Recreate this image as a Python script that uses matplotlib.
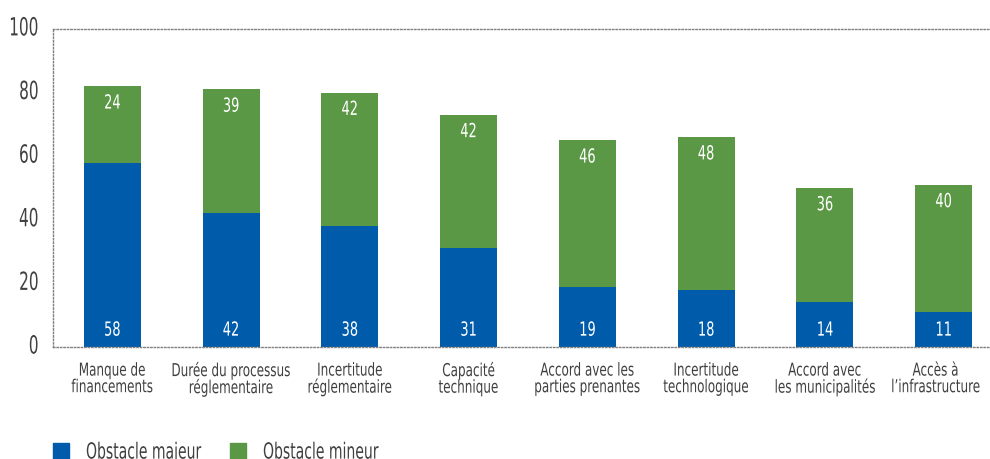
import matplotlib.pyplot as plt
import matplotlib.patheffects as pe
from matplotlib.patches import Patch
from matplotlib.transforms import Affine2D, ScaledTranslation

# Obstacles and shares (%) of respondents
categories = ["Manque de\nfinancements", "Durée du processus\nréglementaire",
              "Incertitude\nréglementaire", "Capacité\ntechnique",
              "Accord avec les\nparties prenantes", "Incertitude\ntechnologique",
              "Accord avec\nles municipalités", "Accès à\nl\u2019infrastructure"]
majeur = [58, 42, 38, 31, 19, 18, 14, 11]
mineur = [24, 39, 42, 42, 46, 48, 36, 40]
series_labels = ['Obstacle majeur', 'Obstacle mineur']

BLUE = '#005BAA'
GREEN = '#5B9845'
TXT = '#404040'

plt.rcParams['font.family'] = ['DejaVu Sans']
plt.rcParams['font.stretch'] = 'condensed'


class Squeeze(pe.AbstractPathEffect):
    """Narrow each text line horizontally (condensed look)."""

    def __init__(self, sx=0.72, anchor='center'):
        super().__init__()
        self.sx = sx
        self.anchor = anchor

    def draw_path(self, renderer, gc, tpath, affine, rgbFace=None):
        bb = tpath.get_extents(affine)
        cx = {'left': bb.x0, 'right': bb.x1}.get(self.anchor, (bb.x0 + bb.x1) / 2)
        affine = affine + Affine2D().translate(-cx, 0).scale(self.sx, 1).translate(cx, 0)
        renderer.draw_path(gc, tpath, affine, rgbFace)


fig = plt.figure(figsize=(9.9, 4.59), dpi=100)
ax = fig.add_axes([0.0535, 0.244, 0.9465, 0.693])

x = range(len(categories))
w = 0.48
ax.bar(x, majeur, width=w, color=BLUE)
ax.bar(x, mineur, width=w, bottom=majeur, color=GREEN)

# value labels: major near the base, minor near the top of the stack
for i in x:
    for yv, v in [(5.3, majeur[i]), (majeur[i] + mineur[i] - 5.3, mineur[i])]:
        ax.text(i, yv, str(v), ha='center', va='center', color='white', fontsize=14,
                path_effects=[Squeeze(0.74)])

ax.set_xlim(-0.5, 7.39)
ax.set_ylim(0, 100)
ax.set_yticks(range(0, 101, 20))
ax.set_xticks(list(x))
ax.set_xticklabels(categories, fontsize=12.8, color=TXT, linespacing=0.9)
ax.tick_params(axis='y', labelsize=18, labelcolor=TXT, length=0, pad=10)
ax.tick_params(axis='x', length=0, pad=10.5)

for lab in ax.get_xticklabels():
    lab.set_path_effects([Squeeze(0.75)])
# last label pulled in from the right edge
last = ax.get_xticklabels()[-1]
last.set_transform(last.get_transform() + ScaledTranslation(-8 / 100, 0, fig.dpi_scale_trans))

for lab in ax.get_yticklabels():
    lab.set_path_effects([Squeeze(0.68, 'right')])
    lab.set_transform(lab.get_transform() + ScaledTranslation(0, 3 / 100, fig.dpi_scale_trans))

for side in ['top', 'left', 'bottom']:
    ax.spines[side].set_linestyle((0, (1, 1.5)))
    ax.spines[side].set_color('#808080')
    ax.spines[side].set_linewidth(1)
ax.spines['right'].set_visible(False)

# legend: one entry per block, placed along the bottom
for lbl, col, x0 in [(series_labels[0], BLUE, 53 / 990), (series_labels[1], GREEN, 230 / 990)]:
    leg = fig.legend(handles=[Patch(color=col, label=lbl)], loc='center left',
                     bbox_to_anchor=(x0, 0.014), frameon=False, fontsize=16,
                     handlelength=0.72, handleheight=0.72, handletextpad=0.75,
                     labelcolor=TXT, borderpad=0, borderaxespad=0)
    for t in leg.get_texts():
        t.set_path_effects([Squeeze(0.7, 'left')])

fig.savefig('out.png', dpi=100)
